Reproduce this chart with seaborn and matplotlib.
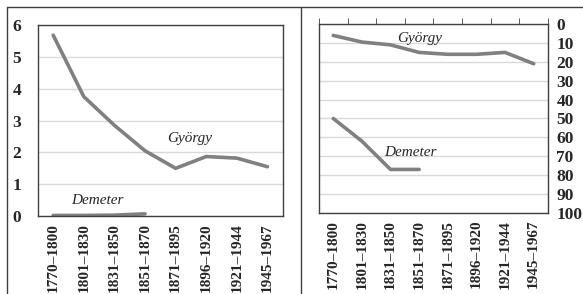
import numpy as np
import pandas as pd
import matplotlib.pyplot as plt
import seaborn as sns
from matplotlib.lines import Line2D

periods = ['1770–1800', '1801–1830', '1831–1850', '1851–1870',
           '1871–1895', '1896–1920', '1921–1944', '1945–1967']
gyorgy_left = [5.68, 3.75, 2.85, 2.05, 1.5, 1.87, 1.82, 1.55]
demeter_left = [0.02, 0.02, 0.03, 0.07]
gyorgy_right = [6, 9.5, 11, 15, 16, 16, 15, 21]
demeter_right = [50, 62, 77, 77]

sns.set_style('white')
plt.rcParams['font.family'] = ['Liberation Serif', 'DejaVu Serif']

fig = plt.figure(figsize=(5.83, 2.94), dpi=100)
ax1 = fig.add_axes([0.065, 0.265, 0.42, 0.65])
ax2 = fig.add_axes([0.547, 0.276, 0.393, 0.642])

grey = '#808080'
pos = np.arange(len(periods))
xfs = 11
yfs = 12.5

def draw(ax, gy, de):
    df = pd.DataFrame({'x': np.concatenate([pos, pos[:len(de)]]),
                       'y': gy + de,
                       'name': ['György'] * len(gy) + ['Demeter'] * len(de)})
    sns.lineplot(data=df, x='x', y='y', units='name', estimator=None,
                 color=grey, linewidth=2.6, ax=ax, legend=False)
    ax.set_xlim(-0.5, len(periods) - 0.5)
    ax.set_xlabel('')
    ax.set_ylabel('')
    ax.yaxis.grid(True, color='#d9d9d9', linewidth=1)
    ax.set_axisbelow(True)
    for s in ax.spines.values():
        s.set_color('#404040')
        s.set_linewidth(1)
    ax.set_xticks(pos)
    ax.set_xticklabels(periods, rotation=90, fontsize=xfs, fontweight='bold')
    ax.set_xticks(np.arange(-0.5, len(periods)), minor=True)
    ax.tick_params(axis='x', which='major', length=0, pad=5)
    ax.tick_params(axis='y', length=0, labelsize=yfs)

draw(ax1, gyorgy_left, demeter_left)
ax1.set_ylim(0, 6)
ax1.set_yticks(range(0, 7))
ax1.set_yticklabels([str(v) for v in range(0, 7)], fontweight='bold', fontsize=yfs)
ax1.tick_params(axis='y', pad=12)
ax1.tick_params(axis='x', which='minor', length=4, direction='out', color='#404040')
ax1.text(4.45, 2.45, 'György', fontsize=11, style='italic', ha='center', va='center')
ax1.text(1.43, 0.5, 'Demeter', fontsize=11, style='italic', ha='center', va='center')

draw(ax2, gyorgy_right, demeter_right)
ax2.set_ylim(100, 0)
ax2.set_yticks(range(0, 101, 10))
ax2.set_yticklabels([str(v) for v in range(0, 101, 10)], fontweight='bold', fontsize=yfs)
ax2.yaxis.tick_right()
ax2.tick_params(axis='y', length=0, pad=6)
ax2.tick_params(axis='x', which='minor', length=4, direction='out', color='#404040',
                bottom=False, top=True)
ax2.text(3.03, 7.4, 'György', fontsize=11, style='italic', ha='center', va='center')
ax2.text(2.68, 68, 'Demeter', fontsize=11, style='italic', ha='center', va='center')

# outer frame lines
W, H = 583, 294
fig.add_artist(Line2D([7 / W, 7 / W], [0, 1 - 7 / H], color='#404040', linewidth=1))
fig.add_artist(Line2D([7 / W, 1], [1 - 7 / H, 1 - 7 / H], color='#404040', linewidth=1))
fig.add_artist(Line2D([301 / W, 301 / W], [0, 1 - 7 / H], color='#404040', linewidth=1))

fig.savefig('out.png', dpi=100)
